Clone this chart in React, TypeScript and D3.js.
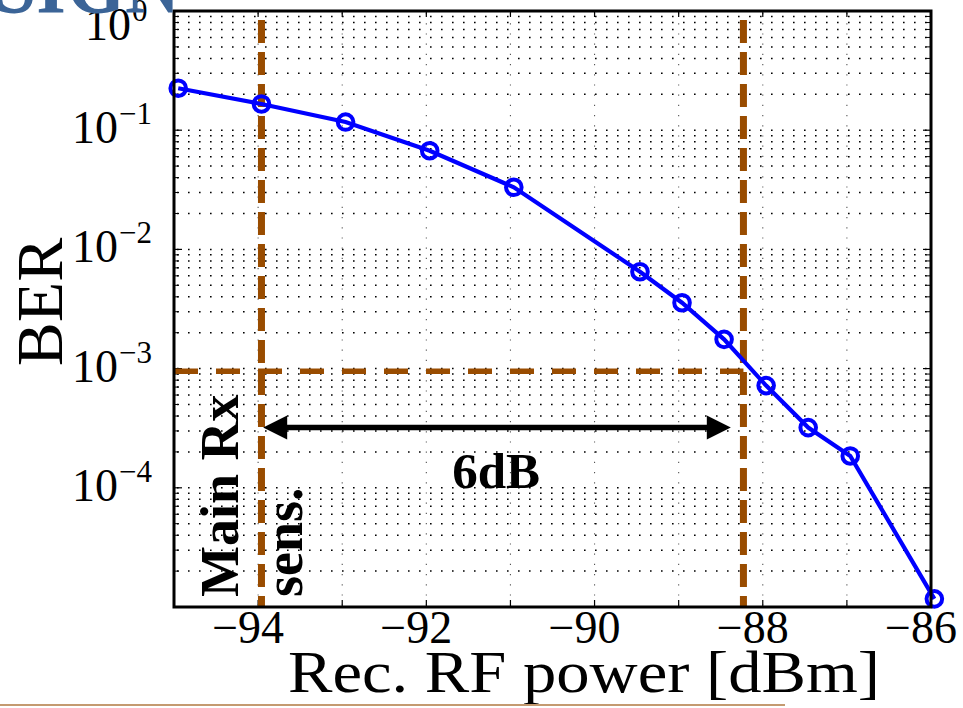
import React from 'react';
import * as d3 from 'd3';

// measured points (received power in dBm, bit error rate)
const powerDbm = [-94.95, -93.96, -92.96, -91.96, -90.96, -89.46, -88.96, -88.46, -87.96, -87.46, -86.96, -85.96];
const berValues = [0.225, 0.166, 0.117, 0.0673, 0.0332, 0.0065, 0.00357, 0.00176, 7.2e-4, 3.2e-4, 1.85e-4, 1.17e-5];

const xTicks = [-95, -94, -93, -92, -91, -90, -89, -88, -87, -86];
const xTickLabels = [-94, -92, -90, -88, -86];
const yDecades = [1e-5, 1e-4, 1e-3, 1e-2, 1e-1, 1];
const yDecadeLabels = ['0', '\u22121', '\u22122', '\u22123', '\u22124'];

// sensitivity markers
const sensPower = [-93.96, -88.23];
const berThreshold = 9.5e-4;
const arrowSpan = [-93.94, -88.38];
const arrowBer = 3.2e-4;

const W = 963;
const H = 708;
const serif = '"Liberation Serif", "Times New Roman", serif';
const brown = '#994C00';

export default function App() {
  const x = d3.scaleLinear().domain([-95, -86]).range([174, 931]);
  const y = d3.scaleLog().domain([1e-5, 1]).range([607, 11]);

  const minorVals: number[] = [];
  for (let k = -5; k < 0; k++) {
    for (let m = 2; m <= 9; m++) minorVals.push(m * Math.pow(10, k));
  }

  const line = d3.line<number>()
    .x((d, i) => x(powerDbm[i]))
    .y(d => y(d));

  const ay = y(arrowBer);
  const ax0 = x(arrowSpan[0]);
  const ax1 = x(arrowSpan[1]);

  return (
    <svg width={W} height={H} style={{ position: 'absolute', left: 0, top: 0, background: '#fff' }}>
      <rect x={174} y={11} width={757} height={596} fill="#fff" />

      {/* dotted grid */}
      {minorVals.concat(yDecades.slice(1, 5)).map((v, i) => (
        <line key={'h' + i} x1={177} x2={929} y1={y(v)} y2={y(v)}
          stroke="#000" strokeWidth={1.5} strokeDasharray="1.6 9.4" />
      ))}
      {xTicks.slice(1, -1).map(t => (
        <line key={'v' + t} x1={x(t)} x2={x(t)} y1={13} y2={605}
          stroke="#555" strokeWidth={1.1} strokeDasharray="1.2 9" />
      ))}

      {/* ticks */}
      {xTicks.map(t => (
        <g key={'xt' + t}>
          <line x1={x(t)} x2={x(t)} y1={607} y2={600} stroke="#000" strokeWidth={1.2} />
          <line x1={x(t)} x2={x(t)} y1={11} y2={17} stroke="#000" strokeWidth={1.2} />
        </g>
      ))}
      {yDecades.map(v => (
        <g key={'yt' + v}>
          <line x1={174} x2={182} y1={y(v)} y2={y(v)} stroke="#000" strokeWidth={1.2} />
          <line x1={931} x2={923} y1={y(v)} y2={y(v)} stroke="#000" strokeWidth={1.2} />
        </g>
      ))}
      {minorVals.map((v, i) => (
        <g key={'ym' + i}>
          <line x1={174} x2={179} y1={y(v)} y2={y(v)} stroke="#000" strokeWidth={1} />
          <line x1={931} x2={926} y1={y(v)} y2={y(v)} stroke="#000" strokeWidth={1} />
        </g>
      ))}

      {/* reference lines */}
      <line x1={174} x2={x(sensPower[1])} y1={y(berThreshold)} y2={y(berThreshold)}
        stroke={brown} strokeWidth={5.5} strokeDasharray="24 18" />
      {sensPower.map(p => (
        <line key={'s' + p} x1={x(p)} x2={x(p)} y1={y(0.84)} y2={607}
          stroke={brown} strokeWidth={7} strokeDasharray="23 9" />
      ))}

      {/* 6 dB arrow */}
      <line x1={ax0 + 18} x2={ax1 - 18} y1={ay} y2={ay} stroke="#000" strokeWidth={5.5} />
      <path d={`M${ax0},${ay} L${ax0 + 24},${ay - 12} L${ax0 + 24},${ay + 12} Z`} fill="#000" />
      <path d={`M${ax1},${ay} L${ax1 - 24},${ay - 12} L${ax1 - 24},${ay + 12} Z`} fill="#000" />
      <text x={x(-91.17)} y={488} textAnchor="middle" fontFamily={serif} fontWeight="bold" fontSize={51}>6dB</text>

      <text transform="translate(238,597) rotate(-90)" fontFamily={serif} fontWeight="bold" fontSize={54}>Main Rx</text>
      <text transform="translate(302,597) rotate(-90)" fontFamily={serif} fontWeight="bold" fontSize={54}>sens.</text>

      {/* BER curve */}
      <path d={line(berValues) || ''} fill="none" stroke="#0000FF" strokeWidth={4.2} />
      {berValues.map((v, i) => (
        <circle key={'p' + i} cx={x(powerDbm[i])} cy={y(v)} r={7.8}
          fill="none" stroke="#0000FF" strokeWidth={4} />
      ))}

      {/* axes box */}
      <rect x={174} y={11} width={757} height={596} fill="none" stroke="#000" strokeWidth={3} />

      {/* tick labels */}
      {xTickLabels.map(t => (
        <text key={'xl' + t} x={x(t) - 10} y={643} textAnchor="middle" fontFamily={serif} fontSize={46}>
          {'\u2212' + Math.abs(t)}
        </text>
      ))}
      {yDecades.slice(1).reverse().map((v, i) => (
        <g key={'yl' + i} transform={`translate(0,${i === 0 ? 27 : y(v)})`}>
          <text x={i === 0 ? 131 : 118} y={13} textAnchor="end" fontFamily={serif} fontSize={46}>10</text>
          <text x={i === 0 ? 132 : 119} y={-6} textAnchor="start" fontFamily={serif} fontSize={31}>{yDecadeLabels[i]}</text>
        </g>
      ))}

      {/* axis titles */}
      <text transform="translate(62,302) rotate(-90)" textAnchor="middle" fontFamily={serif} fontSize={66}>BER</text>
      <text x={288} y={692} fontFamily={serif} fontSize={60}
        textLength={592} lengthAdjust="spacingAndGlyphs">Rec. RF power [dBm]</text>

      {/* slide leftovers */}
      <text x={-6} y={12} fontFamily={serif} fontWeight="bold" fontSize={88} fill="#3B6497"
        textLength={186} lengthAdjust="spacingAndGlyphs">SIGN</text>
      <line x1={0} x2={785} y1={705} y2={705} stroke="#C49A70" strokeWidth={2} />
    </svg>
  );
}
